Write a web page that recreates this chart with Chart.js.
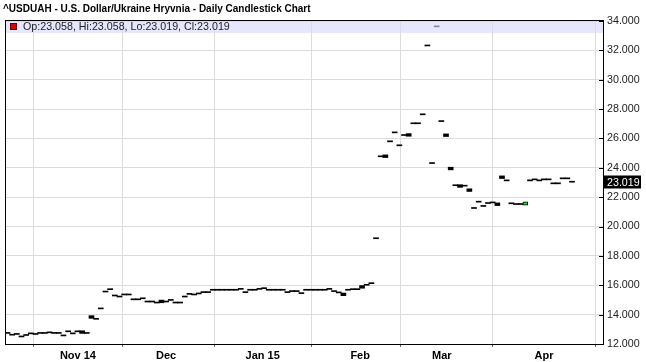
<!DOCTYPE html>
<html><head><meta charset="utf-8">
<script src="https://cdn.jsdelivr.net/npm/chart.js@4"></script>
<style>html,body{margin:0;padding:0;background:#fff}#wrap{width:646px;height:362px;position:relative}</style>
</head><body><div id="wrap"><canvas id="c"></canvas></div>
<script>
const titleText = "^USDUAH - U.S. Dollar/Ukraine Hryvnia - Daily Candlestick Chart";
const infoText = "Op:23.058, Hi:23.058, Lo:23.019, Cl:23.019";

// trading-day index -> open / close
const opens = [
 12.72,12.60,12.65,12.48,12.58,12.69,12.65,12.72,12.72,12.76,
 12.72,12.72,12.55,12.83,12.69,12.83,12.90,12.72,13.93,13.68,
 14.39,15.54,15.70,15.27,15.20,15.34,15.34,15.01,15.01,15.08,
 14.86,14.86,14.79,14.99,14.86,14.97,14.79,14.79,15.20,15.38,
 15.34,15.41,15.50,15.50,15.66,15.66,15.66,15.66,15.66,15.66,
 15.72,15.50,15.66,15.66,15.72,15.77,15.66,15.66,15.66,15.66,
 15.50,15.57,15.57,15.43,15.66,15.66,15.66,15.66,15.66,15.72,
 15.57,15.48,15.47,15.66,15.70,15.70,15.98,16.00,16.11,19.17,
 24.75,24.88,25.77,26.38,25.50,26.20,26.33,27.00,27.00,27.61,
 32.30,24.29,33.60,27.15,26.31,24.04,22.78,22.85,22.75,22.57,
 21.23,21.66,21.37,21.57,21.61,21.61,23.45,23.11,21.55,21.50,
 21.50,21.46,23.11,23.18,23.11,23.18,23.18,22.91,22.91,23.25,
 23.25,23.058
];
const closes = [
 12.72,12.60,12.65,12.48,12.58,12.69,12.65,12.72,12.72,12.76,
 12.72,12.72,12.55,12.83,12.69,12.83,12.72,12.72,13.75,13.68,
 14.39,15.54,15.70,15.27,15.20,15.34,15.34,15.01,15.01,15.08,
 14.86,14.86,14.79,14.81,14.86,14.97,14.79,14.79,15.20,15.38,
 15.34,15.41,15.50,15.50,15.66,15.66,15.66,15.66,15.66,15.66,
 15.72,15.50,15.66,15.66,15.72,15.77,15.66,15.66,15.66,15.66,
 15.50,15.57,15.57,15.43,15.66,15.66,15.66,15.66,15.66,15.72,
 15.57,15.48,15.29,15.66,15.70,15.70,15.80,16.00,16.11,19.17,
 24.75,24.70,25.77,26.38,25.50,26.20,26.15,27.00,27.00,27.61,
 32.30,24.29,33.60,27.15,26.13,23.86,22.78,22.67,22.75,22.39,
 21.23,21.66,21.37,21.57,21.61,21.43,23.27,23.11,21.55,21.50,
 21.50,21.68,23.11,23.18,23.11,23.18,23.18,22.91,22.91,23.25,
 23.25,23.019
];
const monthTickPos = [15.1, 34.0, 54.7, 75.6, 93.1, 115.0];
const monthLabels = ["Nov 14", "Dec", "Jan 15", "Feb", "Mar", "Apr"];
const yTickLabelsFrom = 12, yTickLabelsTo = 34, yStep = 2;

const FONT = "'Liberation Sans', Arial, sans-serif";

const candleData = closes.map((c, i) => ({ x: i, y: [opens[i], c] }));

const decor = {
  id: 'decor',
  beforeDraw(chart) {
    const ctx = chart.ctx;
    ctx.save();
    ctx.fillStyle = '#fff';
    ctx.fillRect(0, 0, chart.width, chart.height);
    ctx.fillStyle = '#000';
    ctx.font = "bold 10px " + FONT;
    ctx.textBaseline = 'middle';
    ctx.fillText(titleText, 3, 9);
    ctx.restore();
  },
  afterDatasetsDraw(chart) {
    const ctx = chart.ctx, a = chart.chartArea;
    const ys = chart.scales.y;
    ctx.save();
    // info band
    ctx.fillStyle = 'rgba(214,214,250,0.62)';
    ctx.fillRect(a.left, a.top, a.right - a.left, 12);
    // red marker
    ctx.fillStyle = '#e00000';
    ctx.fillRect(10, 23, 7, 7);
    ctx.strokeStyle = '#600';
    ctx.lineWidth = 1;
    ctx.strokeRect(10.5, 23.5, 6, 6);
    ctx.fillStyle = '#222';
    ctx.font = "10.7px " + FONT;
    ctx.textBaseline = 'middle';
    ctx.fillText(infoText, 23, 27.5);
    // frame
    ctx.strokeStyle = '#000';
    ctx.lineWidth = 1;
    ctx.strokeRect(Math.round(a.left) - 0.5, Math.round(a.top) - 0.5,
      Math.round(a.right - a.left) + 1, Math.round(a.bottom - a.top) + 1);
    // inward ticks on right axis
    ys.ticks.forEach(t => {
      const py = Math.round(ys.getPixelForValue(t.value)) + 0.5;
      ctx.beginPath();
      ctx.moveTo(a.right - 4, py);
      ctx.lineTo(a.right, py);
      ctx.stroke();
    });
    // last value label
    const last = closes[closes.length - 1];
    const py = ys.getPixelForValue(last);
    ctx.fillStyle = '#000';
    ctx.fillRect(a.right + 1, Math.round(py) - 6.5, 37, 13);
    ctx.fillStyle = '#fff';
    ctx.font = "10.7px " + FONT;
    ctx.fillText(last.toFixed(3), a.right + 4, py + 0.5);
    ctx.restore();
  }
};

new Chart(document.getElementById('c'), {
  type: 'bar',
  data: {
    datasets: [{
      data: candleData,
      barThickness: 5,
      minBarLength: 1,
      backgroundColor: ctx => {
        const i = ctx.dataIndex;
        return closes[i] > opens[i] ? '#22dd22' : '#000';
      },
      borderColor: '#000',
      borderWidth: ctx => {
        const i = ctx.dataIndex;
        return closes[i] > opens[i] ? 1 : 0;
      },
      borderSkipped: false
    }]
  },
  options: {
    responsive: true,
    maintainAspectRatio: false,
    animation: false,
    layout: { padding: { top: 21, left: 6, right: 0, bottom: 0 } },
    plugins: { legend: { display: false }, tooltip: { enabled: false }, title: { display: false } },
    scales: {
      x: {
        type: 'linear',
        min: -0.32,
        max: 127.65,
        offset: false,
        afterBuildTicks: s => { s.ticks = monthTickPos.map(v => ({ value: v })); },
        afterFit: s => { s.height = 18; },
        ticks: {
          autoSkip: false,
          maxRotation: 0,
          padding: 2,
          color: '#000',
          font: { family: FONT, size: 11, weight: 'bold' },
          callback: (v) => {
            const k = monthTickPos.indexOf(v);
            return k >= 0 ? monthLabels[k] : '';
          }
        },
        grid: { color: '#dcdcdc', tickColor: '#666', tickLength: 3, drawOnChartArea: true },
        border: { display: true, color: '#000', width: 1 }
      },
      y: {
        position: 'right',
        min: yTickLabelsFrom,
        max: yTickLabelsTo,
        afterFit: s => { s.width = 43; },
        ticks: {
          stepSize: yStep,
          padding: 4,
          color: '#222',
          font: { family: FONT, size: 10.7 },
          callback: v => Number(v).toFixed(3)
        },
        grid: { color: '#dcdcdc', drawTicks: false },
        border: { display: true, color: '#000', width: 1 }
      }
    }
  },
  plugins: [decor]
});
</script>
</body></html>
